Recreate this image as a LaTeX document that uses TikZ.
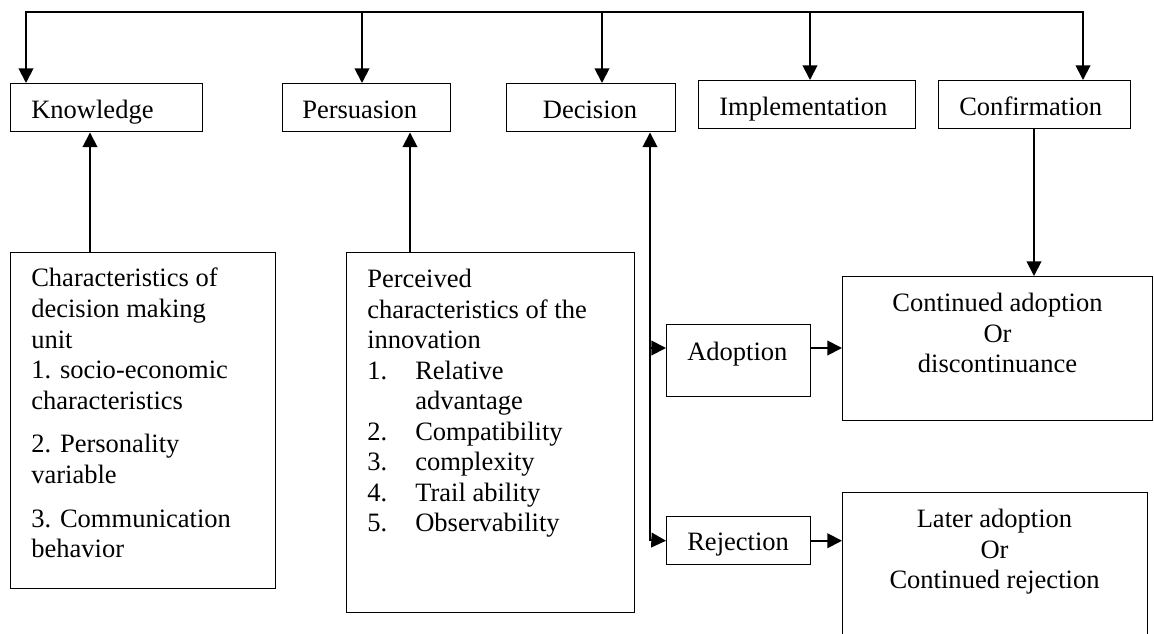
\documentclass[tikz,border=0pt]{standalone}
\usepackage{fontspec}
\setmainfont{Liberation Serif}
\usetikzlibrary{arrows.meta,calc}
\begin{document}
\begin{tikzpicture}[x=0.75pt,y=-0.75pt,
  box/.style={draw, line width=1.1pt, rectangle, inner sep=0pt, anchor=north west},
  txt/.style={inner sep=0pt, font=\fontsize{19.9pt}{22.9pt}\selectfont, align=left},
  conn/.style={line width=1.4pt},
  arr/.style={conn, -{Triangle[width=11pt,length=11pt]}},
  arrboth/.style={conn, {Triangle[width=11pt,length=11pt]}-{Triangle[width=11pt,length=11pt]}},
]
\path[use as bounding box, clip] (0,0) rectangle (1154,633);

% stage boxes
\node[box, minimum width=144pt, minimum height=36pt] (kn) at (10,83) {};
\node[box, minimum width=126pt, minimum height=36pt] (pe) at (282,83) {};
\node[box, minimum width=126.75pt, minimum height=36pt] (de) at (506,83) {};
\node[box, minimum width=162.75pt, minimum height=36pt] (im) at (698,80) {};
\node[box, minimum width=144pt, minimum height=36pt] (co) at (938,80) {};

\node[txt, anchor=base west] (knt) at (31,118) {Knowledge};
\node[txt, anchor=base west] (pet) at (302,118) {Persuasion};
\node[txt, anchor=base] (det) at (590,118) {Decision};
\node[txt, anchor=base west] (imt) at (719,115) {Implementation};
\node[txt, anchor=base west] (cot) at (959,115) {Confirmation};

% lower boxes
\node[box, minimum width=198.75pt, minimum height=252pt] (cu) at (10,252) {};
\node[box, minimum width=216pt, minimum height=270pt] (pc) at (346,252) {};
\node[box, minimum width=108pt, minimum height=54pt] (ad) at (666,324) {};
\node[box, minimum width=108pt, minimum height=36pt] (rj) at (666,516) {};
\node[box, minimum width=232.5pt, minimum height=108pt] (ca) at (842,276) {};
\node[box, minimum width=228.75pt, minimum height=135pt] (la) at (842,492) {};

\node[txt, anchor=north west] (cut) at (31,268) {Characteristics of\\decision making\\unit\\1. socio-economic\\characteristics\\[10pt]2. Personality\\variable\\[10pt]3. Communication\\behavior};
\node[txt, anchor=north west] (pct) at (367,269) {Perceived\\characteristics of the\\innovation\\\makebox[36pt][l]{1.}Relative\\\hspace*{36pt}advantage\\\makebox[36pt][l]{2.}Compatibility\\\makebox[36pt][l]{3.}complexity\\\makebox[36pt][l]{4.}Trail ability\\\makebox[36pt][l]{5.}Observability};
\node[txt, anchor=base west] (adt) at (687,360) {Adoption};
\node[txt, anchor=base west] (rjt) at (687,550) {Rejection};
\node[txt, anchor=north, align=center] (cat) at (997.5,293) {Continued adoption\\Or\\discontinuance};
\node[txt, anchor=north, align=center] (lat) at (994.5,509) {Later adoption\\Or\\Continued rejection};

% top distribution line
\coordinate (t1) at (26,12);
\coordinate (t2) at (362,12);
\coordinate (t3) at (602,12);
\coordinate (t4) at (810,12);
\coordinate (t5) at (1083,12);
\draw[arr] (t2) -- (t1) -- (t1 |- kn.north);
\draw[arr] (t2) -- (t5) -- (t5 |- co.north);
\draw[arr] (t2) -- (t2 |- pe.north);
\draw[arr] (t3) -- (t3 |- de.north);
\draw[arr] (t4) -- (t4 |- im.north);

% upward arrows
\coordinate (u1) at ($(cu.north west)+(80,0)$);
\coordinate (u2) at ($(pc.north west)+(64,0)$);
\draw[arr] (u1) -- (u1 |- kn.south);
\draw[arr] (u2) -- (u2 |- pe.south);

% decision branch
\coordinate (dj) at (650,540);
\coordinate (aj) at ($(ad.north west)+(0,24)$);
\draw[arrboth] (dj |- de.south) -- (dj) -- (rj.west);
\draw[arr] (dj |- aj) -- (aj);

% outcomes
\coordinate (ae) at ($(ad.north east)+(0,24)$);
\draw[arr] (ae) -- (ae -| ca.west);
\draw[arr] (rj.east) -- (rj.east -| la.west);
\coordinate (c1) at (1034,0);
\draw[arr] (c1 |- co.south) -- (c1 |- ca.north);
\end{tikzpicture}
\end{document}
